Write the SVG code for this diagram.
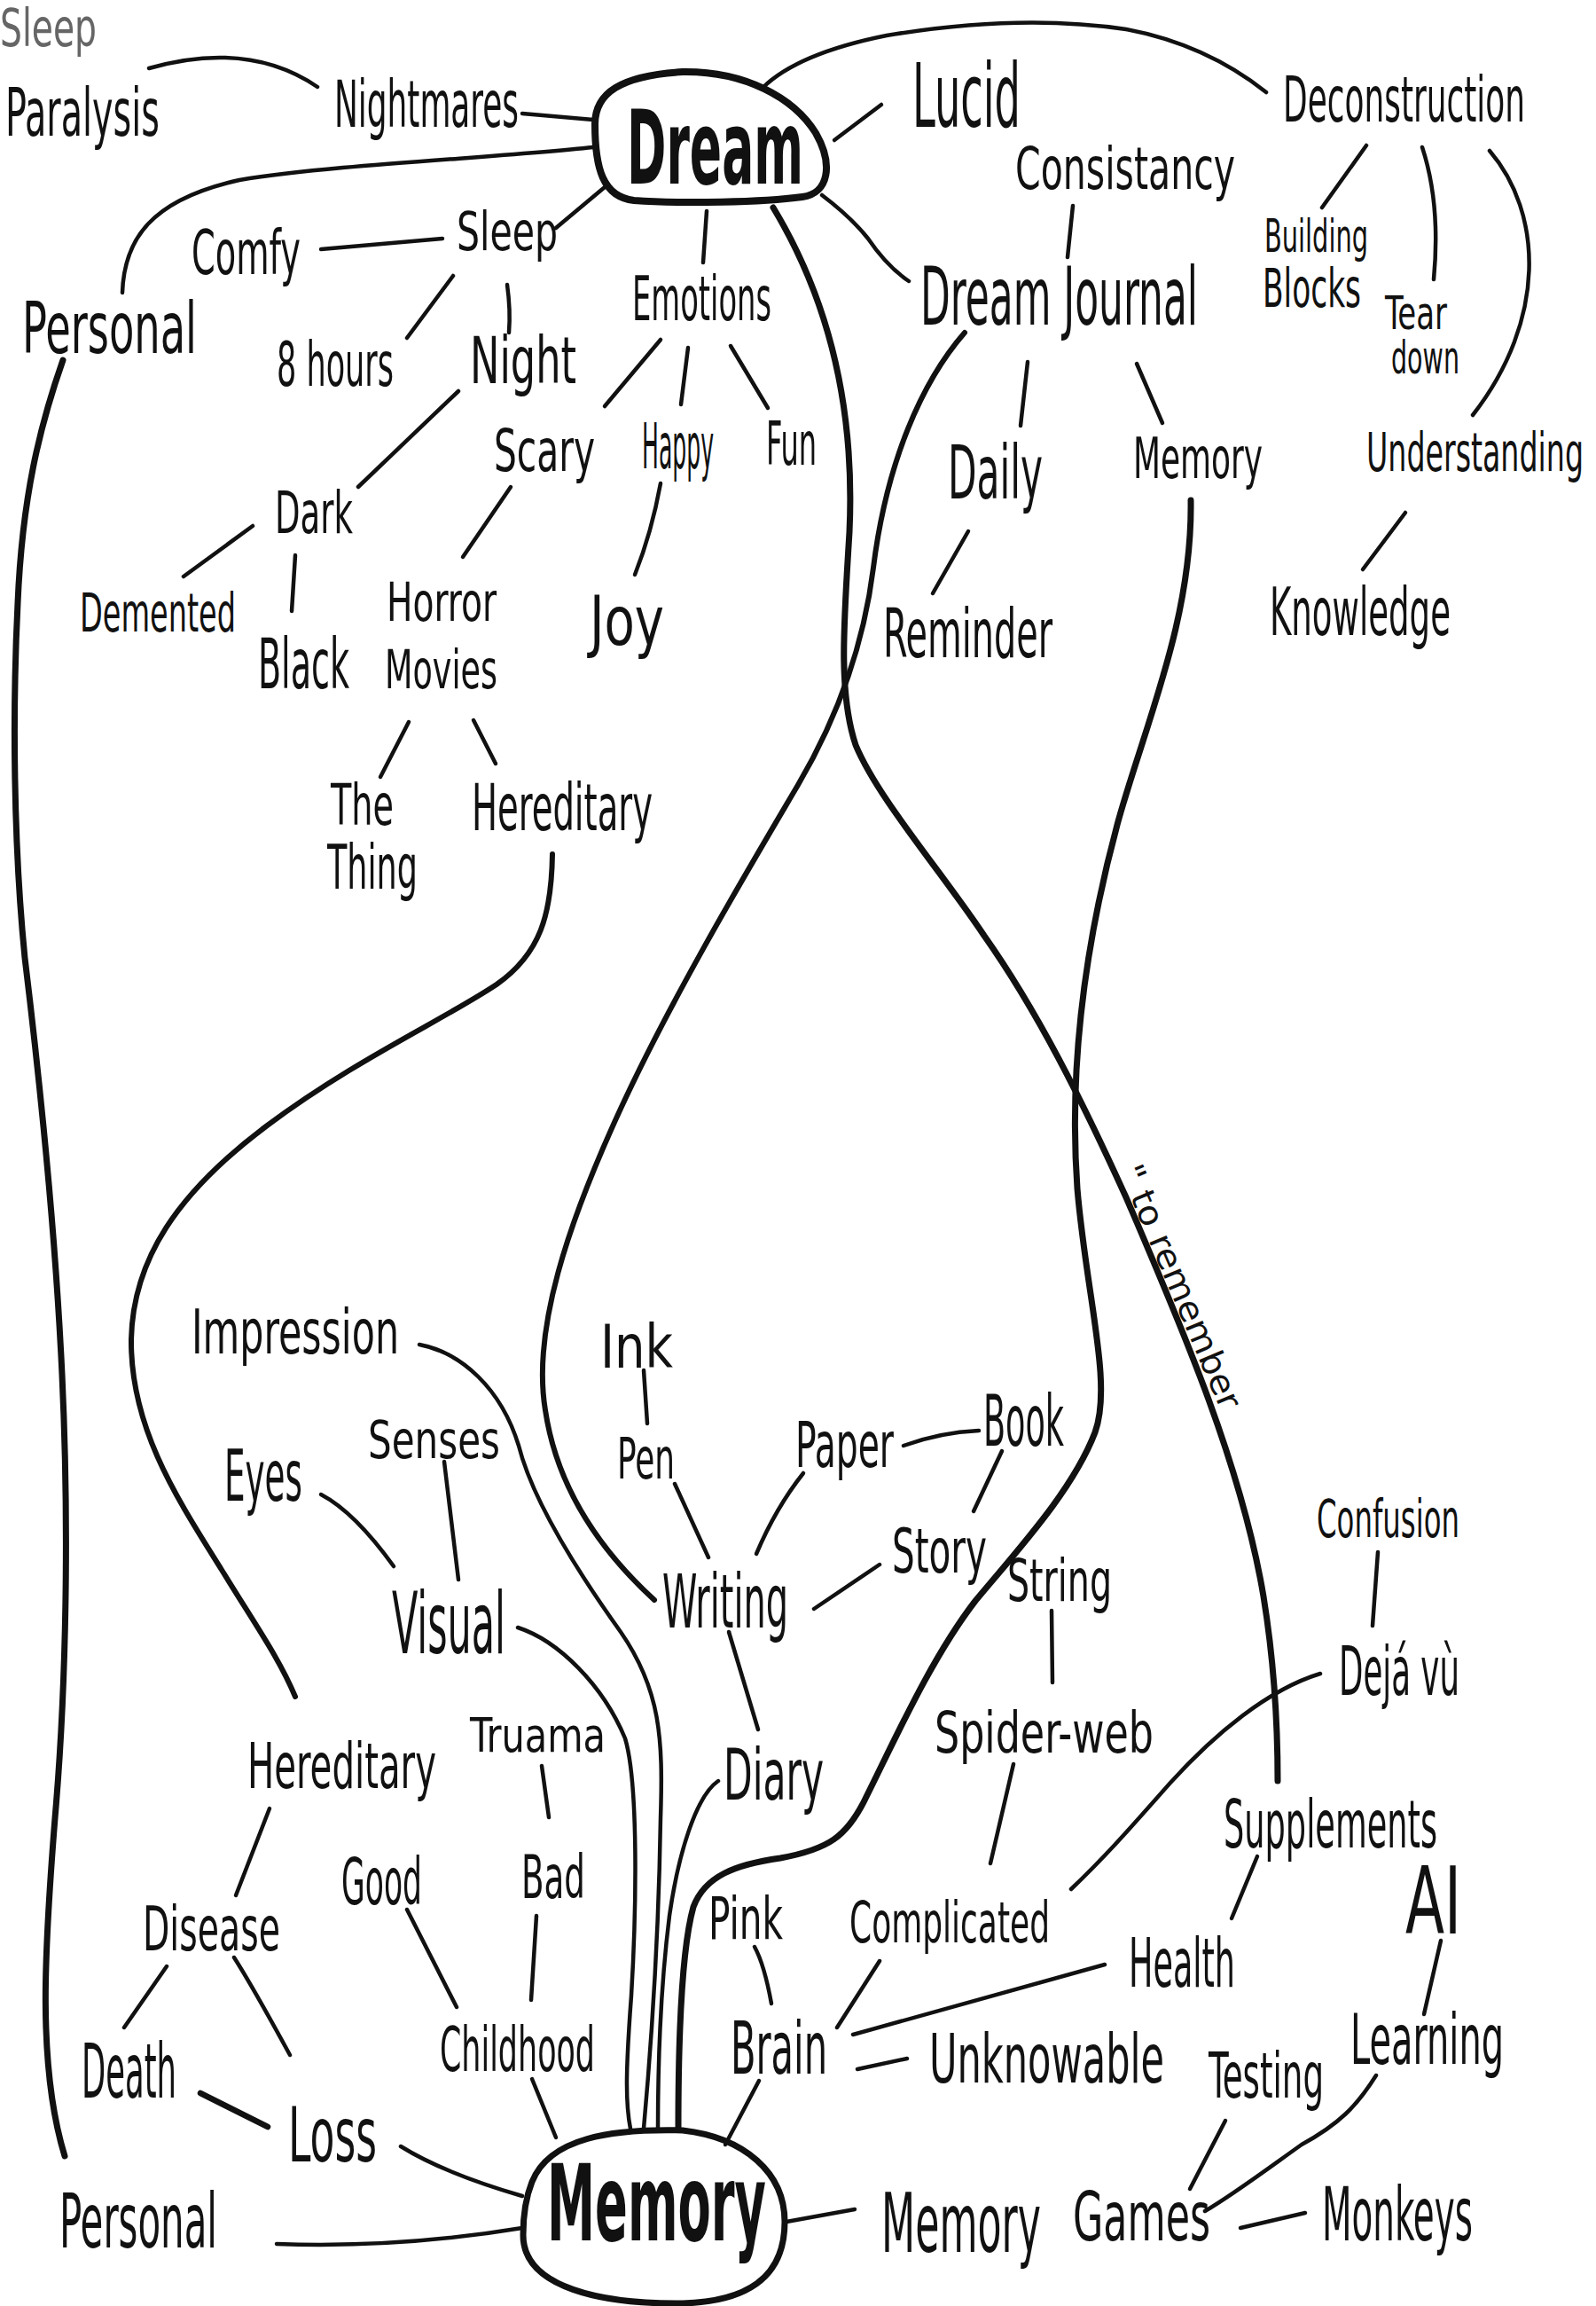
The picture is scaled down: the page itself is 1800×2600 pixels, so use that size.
<svg xmlns="http://www.w3.org/2000/svg" width="1800" height="2600" viewBox="0 0 1800 2600">
<style>
.t{font-family:"Liberation Sans Narrow","DejaVu Sans Condensed","Liberation Sans",Arial,sans-serif;font-stretch:condensed;fill:#111;}
.b{font-weight:bold;}
.g{fill:#666;}
.c{fill:none;stroke:#111;stroke-width:4.5;stroke-linecap:round;stroke-linejoin:round;}
.k{stroke-width:7;}
.n{fill:none;stroke:#111;stroke-width:8;stroke-linejoin:round;}
</style>
<rect width="1800" height="2600" fill="#fff"/>
<g id="connectors">
<path class="c" d="M168,77 Q280,45 358,98"/>
<path class="c" d="M589,128 L669,135"/>
<path class="c" d="M138,330 C140,270 170,225 270,203 C380,185 560,178 669,166"/>
<path class="c" d="M362,281 L499,269"/>
<path class="c" d="M682,211 L627,257"/>
<path class="c" d="M511,311 L459,381"/>
<path class="c" d="M572,321 Q576,350 574,375"/>
<path class="c" d="M797,238 L793,296"/>
<path class="c" d="M941,158 L994,118"/>
<path class="c" d="M860,99 Q900,60 1000,40 Q1150,15 1270,33 Q1360,50 1428,104"/>
<path class="c" d="M927,220 Q960,245 979,269 Q1000,300 1025,317"/>
<path class="c" d="M517,441 L404,549"/>
<path class="c" d="M745,383 L682,458"/>
<path class="c" d="M776,392 L768,456"/>
<path class="c" d="M824,390 L866,460"/>
<path class="c" d="M745,545 Q735,600 716,648"/>
<path class="c" d="M576,549 L522,628"/>
<path class="c" d="M285,593 L207,650"/>
<path class="c" d="M333,626 L329,689"/>
<path class="c" d="M461,814 L429,876"/>
<path class="c" d="M534,812 L559,861"/>
<path class="c" d="M1210,232 L1204,290"/>
<path class="c" d="M1159,408 L1151,480"/>
<path class="c" d="M1282,410 L1311,477"/>
<path class="c" d="M1092,599 L1052,669"/>
<path class="c" d="M1541,164 L1491,234"/>
<path class="c" d="M1604,166 Q1625,230 1617,315"/>
<path class="c" d="M1680,170 C1740,240 1745,360 1661,468"/>
<path class="c" d="M1585,578 L1537,642"/>
<path class="c k" d="M872,234 C930,330 965,450 958,600 C952,700 945,780 965,840 C990,900 1060,980 1110,1055 C1170,1140 1220,1240 1270,1350 C1330,1490 1400,1650 1425,1800 C1438,1880 1441,1950 1441,2008"/>
<path class="c" style="stroke-width:6" d="M1088,375 C1040,430 1000,520 985,640 C975,720 950,800 900,885 C850,970 760,1120 700,1250 C640,1380 600,1500 615,1590 C630,1690 690,1760 738,1804"/>
<path class="c k" d="M1343,564 C1345,700 1290,820 1260,930 C1225,1060 1205,1200 1215,1340 C1225,1460 1255,1560 1235,1615 C1210,1680 1150,1745 1100,1805 C1050,1870 1010,1960 975,2030 C955,2070 935,2085 880,2095 C830,2102 795,2115 782,2150 C768,2200 765,2300 765,2400"/>
<path class="c" style="stroke-width:6" d="M623,963 C622,1030 610,1075 560,1110 C500,1150 400,1195 300,1270 C200,1345 150,1420 148,1510 C147,1610 200,1690 250,1770 C290,1835 315,1870 333,1913"/>
<path class="c k" d="M71,406 C45,480 25,560 20,680 C14,800 15,950 28,1080 C45,1220 62,1380 70,1550 C78,1720 75,1900 62,2050 C50,2200 42,2330 73,2431"/>
<path class="c" d="M473,1516 C520,1525 565,1565 585,1630 C600,1690 650,1770 700,1840 C745,1905 748,1960 745,2050 C743,2180 735,2300 726,2400"/>
<path class="c" d="M584,1835 C630,1850 680,1900 705,1960 C720,2010 718,2150 712,2250 C706,2330 705,2370 711,2400"/>
<path class="c" d="M810,2008 C785,2025 765,2090 755,2160 C745,2240 742,2320 742,2400"/>
<path class="c" d="M822,1840 L855,1950"/>
<path class="c" d="M726,1545 L730,1605"/>
<path class="c" d="M761,1673 L799,1756"/>
<path class="c" d="M906,1661 Q875,1700 853,1752"/>
<path class="c" d="M1019,1630 Q1060,1615 1104,1613"/>
<path class="c" d="M1130,1636 L1098,1704"/>
<path class="c" d="M918,1814 L992,1764"/>
<path class="c" d="M1186,1816 L1187,1897"/>
<path class="c" d="M1143,1989 L1117,2101"/>
<path class="c" d="M362,1685 Q400,1705 444,1766"/>
<path class="c" d="M501,1648 L517,1781"/>
<path class="c" d="M1554,1750 L1548,1833"/>
<path class="c" d="M1489,1887 C1430,1905 1370,1955 1320,2010 C1280,2055 1250,2090 1208,2130"/>
<path class="c" d="M611,1991 L619,2049"/>
<path class="c" d="M605,2160 L599,2255"/>
<path class="c" d="M459,2153 L515,2263"/>
<path class="c" d="M304,2039 L266,2137"/>
<path class="c" d="M188,2217 L140,2286"/>
<path class="c" d="M264,2207 Q285,2240 327,2317"/>
<path class="c" style="stroke-width:6.5" d="M226,2360 L302,2398"/>
<path class="c" d="M452,2420 Q500,2450 589,2476"/>
<path class="c" d="M312,2530 Q450,2535 589,2512"/>
<path class="c" d="M600,2344 L627,2410"/>
<path class="c" d="M851,2195 Q862,2215 870,2259"/>
<path class="c" d="M856,2346 L818,2418"/>
<path class="c" d="M992,2211 L944,2286"/>
<path class="c" d="M962,2294 Q1100,2255 1246,2215"/>
<path class="c" d="M967,2333 L1023,2321"/>
<path class="c" d="M887,2505 L964,2491"/>
<path class="c" d="M1418,2093 L1389,2163"/>
<path class="c" d="M1625,2188 L1606,2271"/>
<path class="c" d="M1552,2340 C1530,2375 1510,2395 1468,2418 C1430,2445 1390,2475 1359,2493"/>
<path class="c" d="M1382,2391 L1342,2468"/>
<path class="c" d="M1399,2512 L1472,2495"/>
<text class="t" font-size="38" textLength="295" lengthAdjust="spacingAndGlyphs" transform="translate(1262,1320) rotate(67)">" to remember</text>
</g>
<g id="dream">
<path class="n" d="M671,140 C671,105 700,85 770,81 C840,80 895,110 920,150 C940,185 935,218 905,222 C860,228 770,230 715,226 C680,222 671,190 671,140 Z"/>
<text class="t b" x="707" y="207" font-size="61" textLength="199" lengthAdjust="spacingAndGlyphs" transform="matrix(1,0,0,1.89,0,-184.23)">Dream</text>
</g>
<g id="memory">
<path class="n" style="stroke-width:7" d="M600,2460 C620,2410 690,2400 770,2402 C840,2410 885,2450 885,2505 C885,2570 840,2595 770,2597 C680,2598 590,2580 590,2520 C590,2495 594,2475 600,2460 Z"/>
<text class="t b" x="617" y="2526" font-size="63" textLength="247" lengthAdjust="spacingAndGlyphs" transform="matrix(1,0,0,1.9,0,-2273.4)">Memory</text>
</g>
<g id="sleep-paralysis">
<text class="t g" x="0" y="52" font-size="37" textLength="109" lengthAdjust="spacingAndGlyphs" transform="matrix(1,0,0,1.57,0,-29.64)">Sleep</text>
<text class="t" x="6" y="153" font-size="33" textLength="174" lengthAdjust="spacingAndGlyphs" transform="matrix(1,0,0,2.27,0,-194.31)">Paralysis</text>
</g>
<g id="nightmares"><text class="t" x="377" y="143" font-size="35" textLength="208" lengthAdjust="spacingAndGlyphs" transform="matrix(1,0,0,2.11,0,-158.73)">Nightmares</text></g>
<g id="lucid"><text class="t" x="1029" y="143" font-size="42" textLength="122" lengthAdjust="spacingAndGlyphs" transform="matrix(1,0,0,2.38,0,-197.34)">Lucid</text></g>
<g id="deconstruction"><text class="t" x="1447" y="137" font-size="33" textLength="273" lengthAdjust="spacingAndGlyphs" transform="matrix(1,0,0,2.18,0,-161.66)">Deconstruction</text></g>
<g id="consistancy"><text class="t" x="1145" y="213" font-size="38" textLength="248" lengthAdjust="spacingAndGlyphs" transform="matrix(1,0,0,1.74,0,-157.62)">Consistancy</text></g>
<g id="comfy"><text class="t" x="216" y="309" font-size="42" textLength="123" lengthAdjust="spacingAndGlyphs" transform="matrix(1,0,0,1.64,0,-197.76)">Comfy</text></g>
<g id="sleep"><text class="t" x="515" y="282" font-size="39" textLength="114" lengthAdjust="spacingAndGlyphs" transform="matrix(1,0,0,1.54,0,-152.28)">Sleep</text></g>
<g id="emotions"><text class="t" x="713" y="361" font-size="33" textLength="157" lengthAdjust="spacingAndGlyphs" transform="matrix(1,0,0,2.09,0,-393.49)">Emotions</text></g>
<g id="dream-journal"><text class="t" x="1038" y="366" font-size="41" textLength="313" lengthAdjust="spacingAndGlyphs" transform="matrix(1,0,0,2.2,0,-439.2)">Dream Journal</text></g>
<g id="building-blocks">
<text class="t" x="1426" y="284" font-size="25" textLength="117" lengthAdjust="spacingAndGlyphs" transform="matrix(1,0,0,2.08,0,-306.72)">Building</text>
<text class="t" x="1424" y="346" font-size="31" textLength="111" lengthAdjust="spacingAndGlyphs" transform="matrix(1,0,0,1.94,0,-325.24)">Blocks</text>
</g>
<g id="tear-down">
<text class="t" x="1562" y="371" font-size="30" textLength="70" lengthAdjust="spacingAndGlyphs" transform="matrix(1,0,0,1.73,0,-270.83)">Tear</text>
<text class="t" x="1569" y="421" font-size="33" textLength="77" lengthAdjust="spacingAndGlyphs" transform="matrix(1,0,0,1.58,0,-244.18)">down</text>
</g>
<g id="personal-top"><text class="t" x="25" y="398" font-size="42" textLength="197" lengthAdjust="spacingAndGlyphs" transform="matrix(1,0,0,1.9,0,-358.2)">Personal</text></g>
<g id="hours"><text class="t" x="312" y="435" font-size="32" textLength="132" lengthAdjust="spacingAndGlyphs" transform="matrix(1,0,0,2.16,0,-504.6)">8 hours</text></g>
<g id="night"><text class="t" x="530" y="432" font-size="41" textLength="120" lengthAdjust="spacingAndGlyphs" transform="matrix(1,0,0,1.76,0,-328.32)">Night</text></g>
<g id="scary"><text class="t" x="557" y="531" font-size="39" textLength="114" lengthAdjust="spacingAndGlyphs" transform="matrix(1,0,0,1.69,0,-366.39)">Scary</text></g>
<g id="happy"><text class="t" x="724" y="528" font-size="27" textLength="81" lengthAdjust="spacingAndGlyphs" transform="matrix(1,0,0,2.67,0,-881.76)">Happy</text></g>
<g id="fun"><text class="t" x="864" y="524" font-size="32" textLength="57" lengthAdjust="spacingAndGlyphs" transform="matrix(1,0,0,2.13,0,-592.12)">Fun</text></g>
<g id="daily"><text class="t" x="1069" y="562" font-size="36" textLength="107" lengthAdjust="spacingAndGlyphs" transform="matrix(1,0,0,2.33,0,-747.46)">Daily</text></g>
<g id="memory-right"><text class="t" x="1278" y="539" font-size="41" textLength="146" lengthAdjust="spacingAndGlyphs" transform="matrix(1,0,0,1.56,0,-301.84)">Memory</text></g>
<g id="understanding"><text class="t" x="1541" y="531" font-size="32" textLength="245" lengthAdjust="spacingAndGlyphs" transform="matrix(1,0,0,1.88,0,-467.28)">Understanding</text></g>
<g id="dark"><text class="t" x="310" y="601" font-size="37" textLength="88" lengthAdjust="spacingAndGlyphs" transform="matrix(1,0,0,1.78,0,-468.78)">Dark</text></g>
<g id="demented"><text class="t" x="90" y="712" font-size="37" textLength="176" lengthAdjust="spacingAndGlyphs" transform="matrix(1,0,0,1.62,0,-441.44)">Demented</text></g>
<g id="black"><text class="t" x="291" y="776" font-size="35" textLength="103" lengthAdjust="spacingAndGlyphs" transform="matrix(1,0,0,2.23,0,-954.48)">Black</text></g>
<g id="horror-movies">
<text class="t" x="436" y="700" font-size="35" textLength="124" lengthAdjust="spacingAndGlyphs" transform="matrix(1,0,0,1.71,0,-497)">Horror</text>
<text class="t" x="434" y="776" font-size="36" textLength="127" lengthAdjust="spacingAndGlyphs" transform="matrix(1,0,0,1.67,0,-519.92)">Movies</text>
</g>
<g id="joy"><text class="t" x="665" y="727" font-size="48" textLength="84" lengthAdjust="spacingAndGlyphs" transform="matrix(1,0,0,1.58,0,-421.66)">Joy</text></g>
<g id="reminder"><text class="t" x="996" y="741" font-size="41" textLength="191" lengthAdjust="spacingAndGlyphs" transform="matrix(1,0,0,1.85,0,-629.85)">Reminder</text></g>
<g id="knowledge"><text class="t" x="1432" y="716" font-size="39" textLength="204" lengthAdjust="spacingAndGlyphs" transform="matrix(1,0,0,1.9,0,-644.4)">Knowledge</text></g>
<g id="the-thing">
<text class="t" x="373" y="930" font-size="40" textLength="71" lengthAdjust="spacingAndGlyphs" transform="matrix(1,0,0,1.6,0,-558)">The</text>
<text class="t" x="369" y="1002" font-size="35" textLength="102" lengthAdjust="spacingAndGlyphs" transform="matrix(1,0,0,2,0,-1002)">Thing</text>
</g>
<g id="hereditary-top"><text class="t" x="532" y="936" font-size="35" textLength="204" lengthAdjust="spacingAndGlyphs" transform="matrix(1,0,0,2.06,0,-992.16)">Hereditary</text></g>
<g id="impression"><text class="t" x="216" y="1526" font-size="40" textLength="234" lengthAdjust="spacingAndGlyphs" transform="matrix(1,0,0,1.75,0,-1144.5)">Impression</text></g>
<g id="ink"><text class="t" x="677" y="1542" font-size="47" textLength="82" lengthAdjust="spacingAndGlyphs" transform="matrix(1,0,0,1.45,0,-693.9)">Ink</text></g>
<g id="pen"><text class="t" x="696" y="1667" font-size="37" textLength="65" lengthAdjust="spacingAndGlyphs" transform="matrix(1,0,0,1.73,0,-1216.91)">Pen</text></g>
<g id="paper"><text class="t" x="897" y="1654" font-size="38" textLength="111" lengthAdjust="spacingAndGlyphs" transform="matrix(1,0,0,1.89,0,-1472.06)">Paper</text></g>
<g id="book"><text class="t" x="1109" y="1630" font-size="39" textLength="91" lengthAdjust="spacingAndGlyphs" transform="matrix(1,0,0,2.05,0,-1711.5)">Book</text></g>
<g id="senses"><text class="t" x="415" y="1644" font-size="42" textLength="149" lengthAdjust="spacingAndGlyphs" transform="matrix(1,0,0,1.38,0,-624.72)">Senses</text></g>
<g id="eyes"><text class="t" x="253" y="1692" font-size="37" textLength="88" lengthAdjust="spacingAndGlyphs" transform="matrix(1,0,0,2.16,0,-1962.72)">Eyes</text></g>
<g id="story"><text class="t" x="1006" y="1773" font-size="36" textLength="107" lengthAdjust="spacingAndGlyphs" transform="matrix(1,0,0,1.92,0,-1631.16)">Story</text></g>
<g id="writing"><text class="t" x="747" y="1835" font-size="34" textLength="142" lengthAdjust="spacingAndGlyphs" transform="matrix(1,0,0,2.47,0,-2697.45)">Writing</text></g>
<g id="string"><text class="t" x="1136" y="1805" font-size="33" textLength="118" lengthAdjust="spacingAndGlyphs" transform="matrix(1,0,0,2,0,-1805)">String</text></g>
<g id="visual"><text class="t" x="442" y="1864" font-size="36" textLength="128" lengthAdjust="spacingAndGlyphs" transform="matrix(1,0,0,2.67,0,-3112.88)">Visual</text></g>
<g id="confusion"><text class="t" x="1485" y="1733" font-size="30" textLength="161" lengthAdjust="spacingAndGlyphs" transform="matrix(1,0,0,1.93,0,-1611.69)">Confusion</text></g>
<g id="spider-web"><text class="t" x="1054" y="1976" font-size="42" textLength="247" lengthAdjust="spacingAndGlyphs" transform="matrix(1,0,0,1.52,0,-1027.52)">Spider-web</text></g>
<g id="deja-vu"><text class="t" x="1510" y="1911" font-size="33" textLength="136" lengthAdjust="spacingAndGlyphs" transform="matrix(1,0,0,2.33,0,-2541.63)">Dejá vù</text></g>
<g id="truama"><text class="t" x="530" y="1975" font-size="43" textLength="153" lengthAdjust="spacingAndGlyphs" transform="matrix(1,0,0,1.26,0,-513.5)">Truama</text></g>
<g id="hereditary-bottom"><text class="t" x="279" y="2016" font-size="36" textLength="213" lengthAdjust="spacingAndGlyphs" transform="matrix(1,0,0,2,0,-2016)">Hereditary</text></g>
<g id="diary"><text class="t" x="816" y="2029" font-size="38" textLength="113" lengthAdjust="spacingAndGlyphs" transform="matrix(1,0,0,2.1,0,-2231.9)">Diary</text></g>
<g id="supplements"><text class="t" x="1380" y="2083" font-size="37" textLength="241" lengthAdjust="spacingAndGlyphs" transform="matrix(1,0,0,2,0,-2083)">Supplements</text></g>
<g id="bad"><text class="t" x="588" y="2140" font-size="41" textLength="72" lengthAdjust="spacingAndGlyphs" transform="matrix(1,0,0,1.66,0,-1412.4)">Bad</text></g>
<g id="good"><text class="t" x="385" y="2147" font-size="39" textLength="91" lengthAdjust="spacingAndGlyphs" transform="matrix(1,0,0,1.85,0,-1824.95)">Good</text></g>
<g id="disease"><text class="t" x="161" y="2199" font-size="38" textLength="155" lengthAdjust="spacingAndGlyphs" transform="matrix(1,0,0,1.84,0,-1847.16)">Disease</text></g>
<g id="pink"><text class="t" x="799" y="2186" font-size="36" textLength="84" lengthAdjust="spacingAndGlyphs" transform="matrix(1,0,0,1.83,0,-1814.38)">Pink</text></g>
<g id="complicated"><text class="t" x="958" y="2190" font-size="35" textLength="226" lengthAdjust="spacingAndGlyphs" transform="matrix(1,0,0,1.83,0,-1817.7)">Complicated</text></g>
<g id="ai"><text class="t" x="1585" y="2180" font-size="54" textLength="63" lengthAdjust="spacingAndGlyphs" transform="matrix(1,0,0,1.96,0,-2092.8)">AI</text></g>
<g id="health"><text class="t" x="1273" y="2240" font-size="34" textLength="120" lengthAdjust="spacingAndGlyphs" transform="matrix(1,0,0,2.26,0,-2822.4)">Health</text></g>
<g id="childhood"><text class="t" x="496" y="2335" font-size="33" textLength="175" lengthAdjust="spacingAndGlyphs" transform="matrix(1,0,0,2.12,0,-2615.2)">Childhood</text></g>
<g id="brain"><text class="t" x="824" y="2338" font-size="37" textLength="109" lengthAdjust="spacingAndGlyphs" transform="matrix(1,0,0,2.22,0,-2852.36)">Brain</text></g>
<g id="unknowable"><text class="t" x="1048" y="2348" font-size="45" textLength="265" lengthAdjust="spacingAndGlyphs" transform="matrix(1,0,0,1.71,0,-1667.08)">Unknowable</text></g>
<g id="testing"><text class="t" x="1363" y="2365" font-size="32" textLength="130" lengthAdjust="spacingAndGlyphs" transform="matrix(1,0,0,2.25,0,-2956.25)">Testing</text></g>
<g id="learning"><text class="t" x="1523" y="2327" font-size="37" textLength="173" lengthAdjust="spacingAndGlyphs" transform="matrix(1,0,0,2.1,0,-2559.7)">Learning</text></g>
<g id="death"><text class="t" x="92" y="2365" font-size="36" textLength="107" lengthAdjust="spacingAndGlyphs" transform="matrix(1,0,0,2.39,0,-3287.35)">Death</text></g>
<g id="loss"><text class="t" x="325" y="2437" font-size="43" textLength="100" lengthAdjust="spacingAndGlyphs" transform="matrix(1,0,0,2,0,-2437)">Loss</text></g>
<g id="personal-bottom"><text class="t" x="67" y="2534" font-size="38" textLength="178" lengthAdjust="spacingAndGlyphs" transform="matrix(1,0,0,2.26,0,-3192.84)">Personal</text></g>
<g id="memory-games">
<text class="t" x="994" y="2539" font-size="51" textLength="180" lengthAdjust="spacingAndGlyphs" transform="matrix(1,0,0,1.8,0,-2031.2)">Memory</text>
<text class="t" x="1210" y="2526" font-size="53" textLength="155" lengthAdjust="spacingAndGlyphs" transform="matrix(1,0,0,1.45,0,-1136.7)">Games</text>
</g>
<g id="monkeys"><text class="t" x="1491" y="2526" font-size="41" textLength="170" lengthAdjust="spacingAndGlyphs" transform="matrix(1,0,0,2.05,0,-2652.3)">Monkeys</text></g>
</svg>
